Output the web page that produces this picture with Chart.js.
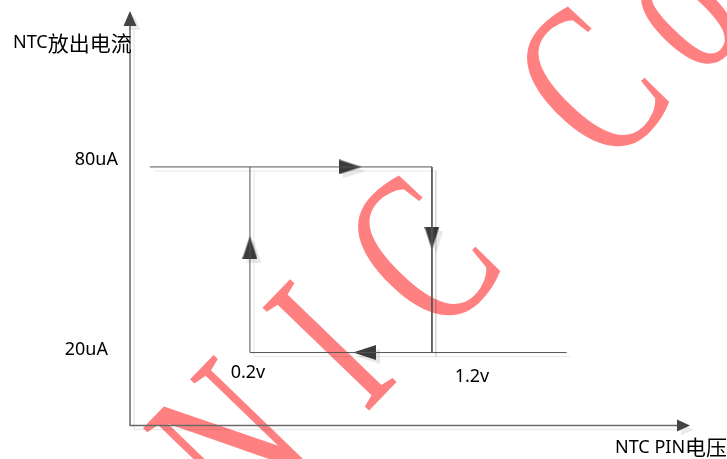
<!DOCTYPE html>
<html>
<head>
<meta charset="utf-8">
<script src="https://cdn.jsdelivr.net/npm/chart.js@4.4.1/dist/chart.umd.min.js"></script>
<style>
    html, body { margin: 0; padding: 0; background: #fff; }
</style>
</head>
<body>
<canvas id="loopChart" width="727" height="459"></canvas>
<script>
// hysteresis loop: threshold voltages and the two discharge currents
const voltageTicks = [0.2, 1.2];
const voltageLabels = ['0.2v', '1.2v'];
const currentTicks = [20, 80];
const currentLabels = ['20uA', '80uA'];
const highBranchX = [-0.35, 1.2];
const lowBranchX = [0.2, 1.94];
const arrowX = [0.75, 1.2, 0.83, 0.2];
const arrowY = [80, 57, 20, 54];
const arrowTurn = [0, 90, 180, 270];
const xTitle = ['NTC PIN', '电压'];
const yTitle = ['NTC', '放出电流'];
const watermark = ['N', 'I', 'C', 'C', 'o'];

const lineColor = '#555555';
const axisColor = '#6a6a6a';

function makeArrow() {
    const c = document.createElement('canvas');
    c.width = 23;
    c.height = 15;
    const g = c.getContext('2d');
    g.fillStyle = '#3c3c3c';
    g.beginPath();
    g.moveTo(0, 0);
    g.lineTo(23, 7.5);
    g.lineTo(0, 15);
    g.closePath();
    g.fill();
    return c;
}

function segment(points) {
    return {
        data: points,
        showLine: true,
        borderColor: lineColor,
        borderWidth: 1,
        pointRadius: 0,
        pointHoverRadius: 0
    };
}

function drawWatermark(ctx) {
    // letters laid along a 45 degree line, narrow serif face
    const along = [-150, -11, 119, 358, 474];
    const across = -476;
    const k = Math.SQRT1_2;
    ctx.save();
    ctx.fillStyle = '#ff8080';
    ctx.font = '226px "Liberation Serif"';
    ctx.textAlign = 'center';
    ctx.textBaseline = 'alphabetic';
    watermark.forEach((ch, i) => {
        const cx = along[i] * k - across * k;
        const cy = -along[i] * k - across * k;
        ctx.save();
        ctx.translate(cx, cy);
        ctx.rotate(-46 * Math.PI / 180);
        ctx.scale(0.67, 1);
        ctx.fillText(ch, 0, 75);
        ctx.restore();
    });
    ctx.restore();
}

const diagramPlugin = {
    id: 'diagram',
    beforeDatasetsDraw(chart) {
        const { ctx, chartArea } = chart;
        const { left, right, top, bottom } = chartArea;

        drawWatermark(ctx);

        // axes with arrow heads
        ctx.save();
        ctx.shadowColor = 'rgba(0,0,0,0.08)';
        ctx.shadowOffsetX = 4;
        ctx.shadowOffsetY = 4;
        ctx.strokeStyle = axisColor;
        ctx.fillStyle = '#444';
        ctx.lineWidth = 1.5;
        ctx.beginPath();
        ctx.moveTo(left, top + 14);
        ctx.lineTo(left, bottom);
        ctx.lineTo(right - 12, bottom);
        ctx.stroke();
        ctx.beginPath();
        ctx.moveTo(left, top);
        ctx.lineTo(left - 6.5, top + 15);
        ctx.lineTo(left + 6.5, top + 15);
        ctx.closePath();
        ctx.fill();
        ctx.beginPath();
        ctx.moveTo(right, bottom);
        ctx.lineTo(right - 13, bottom - 6);
        ctx.lineTo(right - 13, bottom + 6);
        ctx.closePath();
        ctx.fill();
        ctx.restore();

        ctx.save();
        ctx.shadowColor = 'rgba(0,0,0,0.09)';
        ctx.shadowOffsetX = 4;
        ctx.shadowOffsetY = 4;
    },
    afterDatasetsDraw(chart) {
        chart.ctx.restore();
    },
    afterDraw(chart) {
        const { ctx, chartArea, scales: { x, y } } = chart;
        ctx.save();
        ctx.fillStyle = '#000';
        ctx.textBaseline = 'middle';
        ctx.font = '18px "Noto Sans"';

        ctx.textAlign = 'right';
        ctx.fillText(currentLabels[0], chartArea.left - 22, y.getPixelForValue(currentTicks[0]) - 3);
        ctx.fillText(currentLabels[1], chartArea.left - 12, y.getPixelForValue(currentTicks[1]) - 7);

        ctx.textAlign = 'center';
        ctx.fillText(voltageLabels[0], x.getPixelForValue(voltageTicks[0]) - 2, y.getPixelForValue(currentTicks[0]) + 20);
        ctx.fillText(voltageLabels[1], x.getPixelForValue(voltageTicks[1]) + 40, y.getPixelForValue(currentTicks[0]) + 24);

        // axis titles, latin and CJK parts
        ctx.textAlign = 'left';
        ctx.font = '18px "Noto Sans"';
        ctx.fillText(yTitle[0], 13, 43);
        let w = ctx.measureText(yTitle[0]).width;
        ctx.font = '21px "Noto Sans CJK SC"';
        ctx.fillText(yTitle[1], 13 + w, 43);

        ctx.font = '18px "Noto Sans"';
        ctx.fillText(xTitle[0], 615, 448);
        w = ctx.measureText(xTitle[0]).width;
        ctx.font = '21px "Noto Sans CJK SC"';
        ctx.fillText(xTitle[1], 615 + w, 447);
        ctx.restore();
    }
};

const arrowImage = makeArrow();

const loopChart = new Chart(document.getElementById('loopChart'), {
    type: 'scatter',
    data: {
        datasets: [
            segment([{ x: highBranchX[0], y: currentTicks[1] }, { x: highBranchX[1], y: currentTicks[1] }]),
            segment([{ x: voltageTicks[1], y: currentTicks[1] }, { x: voltageTicks[1], y: currentTicks[0] }]),
            segment([{ x: lowBranchX[0], y: currentTicks[0] }, { x: lowBranchX[1], y: currentTicks[0] }]),
            segment([{ x: voltageTicks[0], y: currentTicks[0] }, { x: voltageTicks[0], y: currentTicks[1] }]),
            {
                data: arrowX.map((v, i) => ({ x: v, y: arrowY[i] })),
                showLine: false,
                pointStyle: arrowImage,
                pointRotation: arrowTurn,
                pointRadius: 10,
                pointHoverRadius: 10
            }
        ]
    },
    options: {
        responsive: false,
        animation: false,
        events: [],
        layout: {
            padding: { left: 130, right: 37, top: 8, bottom: 33.5 }
        },
        plugins: {
            legend: { display: false },
            tooltip: { enabled: false }
        },
        scales: {
            x: { type: 'linear', display: false, min: -0.459, max: 2.618 },
            y: { type: 'linear', display: false, min: -3.58, max: 130.4 }
        }
    },
    plugins: [diagramPlugin]
});
</script>
</body>
</html>
